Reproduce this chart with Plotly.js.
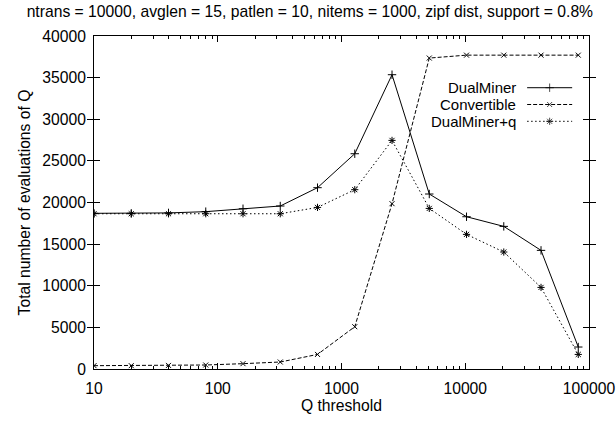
<!DOCTYPE html>
<html>
<head>
<meta charset="utf-8">
<script src="https://cdn.plot.ly/plotly-3.0.1.min.js"></script>
<style>html,body{margin:0;padding:0;background:#fff;}#chart{width:616px;height:421px;}</style>
</head>
<body>
<div id="chart"></div>
<script>
const qThreshold = [10, 20, 40, 80, 160, 320, 640, 1280, 2560, 5120, 10240, 20480, 40960, 81920];
const dualMiner = [18700, 18700, 18750, 18900, 19250, 19580, 21780, 25860, 35350, 21020, 18290, 17130, 14250, 2640];
const convertible = [400, 400, 430, 480, 640, 840, 1750, 5080, 19860, 37350, 37700, 37700, 37700, 37700];
const dualMinerQ = [18650, 18650, 18650, 18650, 18650, 18650, 19410, 21540, 27460, 19290, 16170, 14050, 9800, 1750];
const seriesNames = ["DualMiner", "Convertible", "DualMiner+q"];
const xTickVals = [10, 100, 1000, 10000, 100000];
const xTickText = ["10", "100", "1000", "10000", "100000"];
const yTickVals = [0, 5000, 10000, 15000, 20000, 25000, 30000, 35000, 40000];

const FONT = "Liberation Sans, Arial, Helvetica, sans-serif";
const FS = 15.7;
const KEY_FS = 15;
const styles = [
  {dash: "solid", symbol: "cross-thin-open", size: 6},
  {dash: "4px,2px", symbol: "x-thin-open", size: 5},
  {dash: "1.5px,2.5px", symbol: "asterisk-open", size: 6}
];
const seriesY = [dualMiner, convertible, dualMinerQ];

const traces = seriesY.map((ys, i) => ({
  type: "scatter", mode: "lines+markers", name: seriesNames[i],
  x: qThreshold, y: ys, showlegend: false,
  line: {color: "#000", width: 1, dash: styles[i].dash},
  marker: {symbol: styles[i].symbol, size: styles[i].size, color: "#000", line: {color: "#000", width: 1}}
}));

// gnuplot-style key: text right-aligned, line sample to its right
const keyX = [0.875, 0.9205, 0.966];
const keyRows = [0.8447, 0.7943, 0.7438];
seriesNames.forEach((n, i) => {
  traces.push({
    type: "scatter", mode: "lines+markers", xaxis: "x2", yaxis: "y2", showlegend: false, hoverinfo: "skip",
    x: keyX, y: [keyRows[i], keyRows[i], keyRows[i]],
    line: {color: "#000", width: 1, dash: styles[i].dash},
    marker: {symbol: styles[i].symbol, size: [0, styles[i].size, 0], color: "#000", line: {color: "#000", width: 1}}
  });
});
// invisible trace to activate the top mirror axis (minor ticks along top border)
traces.push({type: "scatter", mode: "none", x: [qThreshold[0]], y: [0], xaxis: "x3", yaxis: "y", showlegend: false, hoverinfo: "skip"});

const annotations = seriesNames.map((n, i) => ({
  xref: "paper", yref: "paper", x: 0.856, y: keyRows[i], xanchor: "right", yanchor: "middle",
  text: n, showarrow: false, font: {family: FONT, size: KEY_FS, color: "#000"}
}));

const layout = {
  width: 616, height: 421,
  margin: {l: 94, r: 27, t: 36, b: 52},
  paper_bgcolor: "#fff", plot_bgcolor: "#fff",
  font: {family: FONT, size: FS, color: "#000"},
  title: {text: "ntrans = 10000, avglen = 15, patlen = 10, nitems = 1000, zipf dist, support = 0.8%",
          x: 0.503, xanchor: "center", y: 0.972, yanchor: "middle", font: {family: FONT, size: FS, color: "#000"}},
  xaxis: {
    type: "log", range: [1, 5], tickvals: xTickVals, ticktext: xTickText,
    ticks: "inside", ticklen: 6, tickwidth: 1, tickcolor: "#000", ticklabelstandoff: 5,
    showline: true, linecolor: "#000", linewidth: 1, mirror: "allticks",
    showgrid: false, zeroline: false,
    minor: {ticks: "inside", ticklen: 3, tickwidth: 1, tickcolor: "#000", dtick: "D1", showgrid: false},
    title: {text: "Q threshold", standoff: 4, font: {family: FONT, size: FS}}
  },
  xaxis3: {
    type: "log", range: [1, 5], overlaying: "x", side: "top", anchor: "y",
    tickvals: xTickVals, showticklabels: false,
    ticks: "inside", ticklen: 6, tickwidth: 1, tickcolor: "#000",
    showline: false, showgrid: false, zeroline: false, fixedrange: true,
    minor: {ticks: "inside", ticklen: 3, tickwidth: 1, tickcolor: "#000", dtick: "D1", showgrid: false}
  },
  yaxis: {
    range: [0, 40000], tickvals: yTickVals, tickformat: "d",
    ticks: "inside", ticklen: 6, tickwidth: 1, tickcolor: "#000", ticklabelstandoff: 4,
    showline: true, linecolor: "#000", linewidth: 1, mirror: "allticks",
    showgrid: false, zeroline: false,
    title: {text: "Total number of evaluations of Q", standoff: 7, font: {family: FONT, size: FS}}
  },
  xaxis2: {overlaying: "x", range: [0, 1], visible: false, anchor: "y2", fixedrange: true},
  yaxis2: {overlaying: "y", range: [0, 1], visible: false, anchor: "x2", fixedrange: true},
  annotations: annotations,
  showlegend: false
};

Plotly.newPlot("chart", traces, layout, {displayModeBar: false, staticPlot: true});
</script>
</body>
</html>
